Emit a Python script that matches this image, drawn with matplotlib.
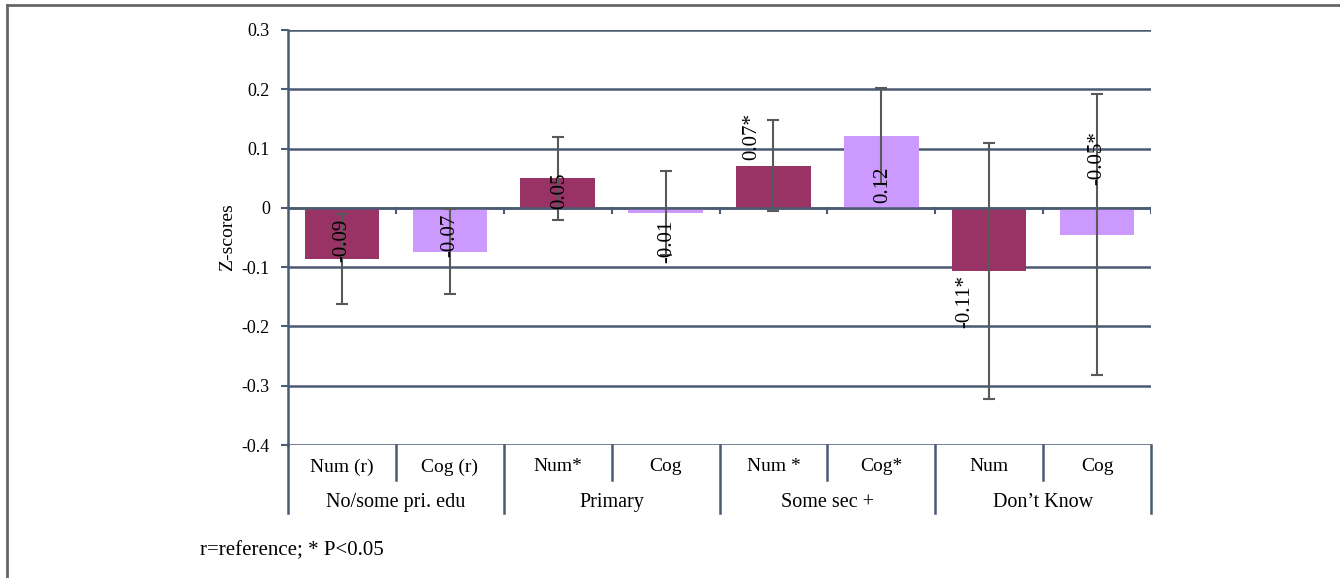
import matplotlib.pyplot as plt
import numpy as np

# data
cat_labels = ["Num (r)", "Cog (r)", "Num*", "Cog", "Num *", "Cog*", "Num", "Cog"]
group_labels = ["No/some pri. edu", "Primary", "Some sec +", "Don\u2019t Know"]
z_scores = [-0.086, -0.074, 0.05, -0.008, 0.071, 0.121, -0.106, -0.045]
errors = [0.076, 0.072, 0.07, 0.071, 0.077, 0.081, 0.216, 0.237]
value_labels = ["-0.09", "-0.07", "0.05", "-0.01", "0.07*", "0.12", "-0.11*", "-0.05*"]
footnote = "r=reference; * P<0.05"

# label placement (styling only)
label_dx = [0, 0, 0.02, 0.01, -0.2, 0.01, -0.23, 0]
label_y = [-0.055, -0.047, 0.029, -0.056, 0.12, 0.039, -0.158, 0.084]

plt.rcParams['font.family'] = ['Liberation Serif', 'DejaVu Serif']
plt.rcParams['axes.unicode_minus'] = False

num_color = "#993366"
cog_color = "#cc99ff"
grid_color = "#4a5b73"
err_color = "#595959"

fig = plt.figure(figsize=(13.4, 5.78), dpi=100)
ax = fig.add_axes([288 / 1340, 1 - 445 / 578, (1151 - 288) / 1340, (445 - 30) / 578])

x = np.arange(len(cat_labels))
colors = [num_color if i % 2 == 0 else cog_color for i in x]

ax.bar(x, z_scores, width=0.69, color=colors, zorder=2)
ax.errorbar(x, z_scores, yerr=errors, fmt='none', ecolor=err_color,
            elinewidth=1.5, capsize=4, capthick=1.5, zorder=4)

for i in x:
    ax.text(i + label_dx[i], label_y[i], value_labels[i], rotation=90,
            ha='center', va='center', fontsize=15, zorder=5)

ax.set_xlim(-0.5, len(cat_labels) - 0.5)
ax.set_ylim(-0.4, 0.3)
yt = np.round(np.arange(-0.4, 0.31, 0.1), 1)
ax.set_yticks(yt)
ax.set_yticklabels(["0" if v == 0 else f"{v:.1f}" for v in yt], fontsize=13)
ax.tick_params(axis='y', length=5, width=1.5, color=grid_color, pad=8)
ax.set_xticks([])
ax.set_ylabel("Z-scores", fontsize=14, labelpad=4)

for v in yt:
    ax.axhline(v, color=grid_color, lw=1.8, zorder=1)
ax.axhline(0, color=grid_color, lw=1.8, zorder=3)

for s in ["top", "right", "bottom"]:
    ax.spines[s].set_visible(False)
ax.spines["left"].set_color(grid_color)
ax.spines["left"].set_linewidth(1.8)

# small ticks on the zero line at category boundaries
for b in np.arange(0.5, len(cat_labels), 1.0):
    ax.plot([b, b], [0, -0.008], color=grid_color, lw=1.5, zorder=3)

# category table below the axes
tr = ax.get_xaxis_transform()
low1 = -0.084
low2 = -0.164
ax.plot([-0.5, -0.5], [0, low2], color=grid_color, lw=1.8, transform=tr, clip_on=False)
ax.plot([7.5, 7.5], [0, low2], color=grid_color, lw=1.8, transform=tr, clip_on=False)
for i, lab in enumerate(cat_labels):
    ax.text(i, -0.053, lab, ha='center', va='center', fontsize=14, transform=tr)
    if i > 0:
        bottom = low2 if i % 2 == 0 else low1
        ax.plot([i - 0.5, i - 0.5], [0, bottom], color=grid_color, lw=1.8,
                transform=tr, clip_on=False)
for g, lab in enumerate(group_labels):
    ax.text(2 * g + 0.5, -0.138, lab, ha='center', va='center', fontsize=14.5, transform=tr)

fig.text(200 / 1340, 1 - 551 / 578, footnote, fontsize=15, va='center', ha='left')

# outer frame lines (top and left)
fig.add_artist(plt.Line2D([7 / 1340, 1], [1 - 5 / 578, 1 - 5 / 578], color="#666666", lw=2))
fig.add_artist(plt.Line2D([7 / 1340, 7 / 1340], [0, 1 - 5 / 578], color="#666666", lw=2))

fig.savefig("out.png", dpi=100)
